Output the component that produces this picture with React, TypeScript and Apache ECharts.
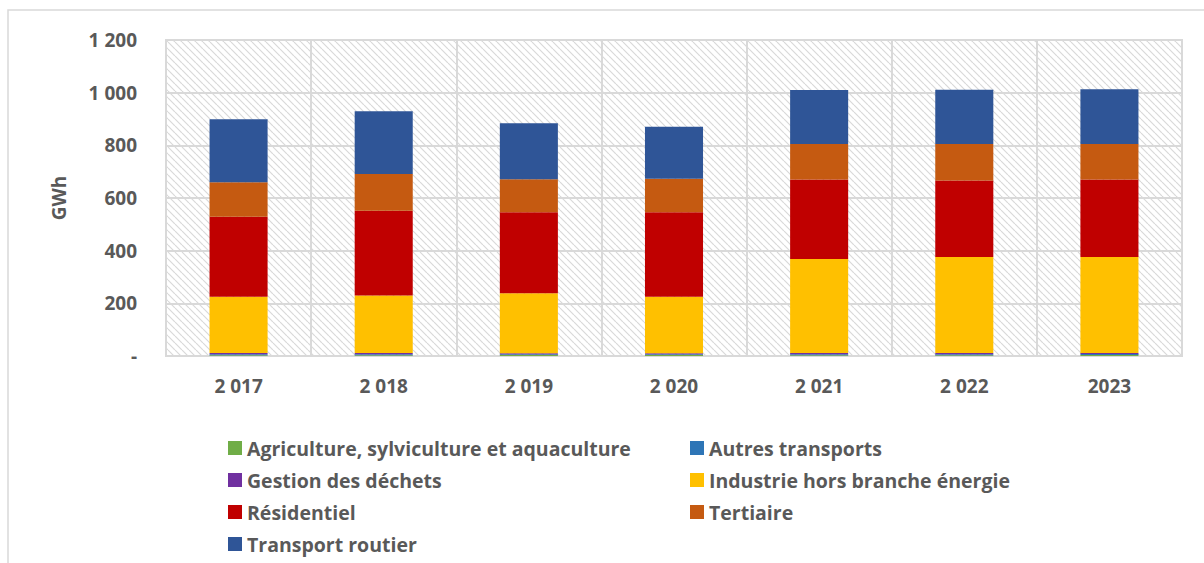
import React, { useEffect, useRef } from "react";
import * as echarts from "echarts";

const years = ["2 017", "2 018", "2 019", "2 020", "2 021", "2 022", "2023"];
const agriculture = [3, 3, 4, 4, 3, 3, 4];
const autresTransports = [4, 4, 3, 3, 4, 4, 4];
const gestionDechets = [4, 4, 3, 3, 4, 4, 3];
const industrie = [214, 219, 228, 215, 357, 365, 365];
const residentiel = [304, 322, 308, 321, 302, 290, 294];
const tertiaire = [131, 139, 125, 127, 135, 139, 135];
const transportRoutier = [239, 238, 213, 198, 205, 206, 208];
const yTickLabels = ["-", "200", "400", "600", "800", "1 000", "1 200"];

const seriesNames = [
  "Agriculture, sylviculture et aquaculture",
  "Autres transports",
  "Gestion des déchets",
  "Industrie hors branche énergie",
  "Résidentiel",
  "Tertiaire",
  "Transport routier",
];
const seriesData = [agriculture, autresTransports, gestionDechets, industrie, residentiel, tertiaire, transportRoutier];
const seriesColors = ["#70AD47", "#2E75B6", "#7030A0", "#FFC000", "#C00000", "#C55A11", "#2F5597"];

const FONT = "Open Sans";
const TXT = "#595959";

export default function App() {
  const ref = useRef<HTMLDivElement>(null);
  useEffect(() => {
    if (!ref.current) return;
    const chart = echarts.init(ref.current, undefined, { renderer: "svg" });

    const c = document.createElement("canvas");
    c.width = 7;
    c.height = 7;
    const ctx = c.getContext("2d");
    if (ctx) {
      ctx.strokeStyle = "#d9d9d9";
      ctx.lineWidth = 1.2;
      for (const off of [-7, 0, 7]) {
        ctx.beginPath();
        ctx.moveTo(off, 0);
        ctx.lineTo(off + 7, 7);
        ctx.stroke();
      }
    }

    const legendText = { fontFamily: FONT, fontSize: 19.5, fontWeight: "bold" as const, color: TXT };
    const axisText = { fontFamily: FONT, fontSize: 19, fontWeight: "bold" as const, color: TXT };

    chart.setOption({
      animation: false,
      backgroundColor: "#ffffff",
      grid: {
        left: 166,
        right: 22,
        top: 40,
        bottom: 207,
        show: true,
        borderColor: "#d9d9d9",
        borderWidth: 2,
        backgroundColor: "transparent",
      },
      graphic: [
        {
          type: "rect",
          z: -10,
          silent: true,
          shape: { x: 8, y: 10, width: 1400, height: 800 },
          style: { fill: "none", stroke: "#d9d9d9", lineWidth: 1.5 },
        },
        {
          type: "rect",
          z: -5,
          silent: true,
          shape: { x: 166, y: 40, width: 1016, height: 316 },
          style: { fill: { image: c, repeat: "repeat" } as any },
        },
      ],
      legend: [
        {
          orient: "vertical",
          left: 228,
          top: 438,
          padding: 0,
          itemWidth: 14,
          itemHeight: 14,
          itemGap: 12,
          icon: "rect",
          textStyle: legendText,
          data: [seriesNames[0], seriesNames[2], seriesNames[4], seriesNames[6]],
        },
        {
          orient: "vertical",
          left: 690,
          top: 438,
          padding: 0,
          itemWidth: 14,
          itemHeight: 14,
          itemGap: 12,
          icon: "rect",
          textStyle: legendText,
          data: [seriesNames[1], seriesNames[3], seriesNames[5]],
        },
      ],
      xAxis: {
        type: "category",
        data: years,
        axisLine: { show: false },
        axisTick: { show: false },
        splitLine: { show: true, lineStyle: { color: "#d9d9d9", width: 2 } },
        axisLabel: { ...axisText, margin: 20 },
      },
      yAxis: {
        type: "value",
        min: 0,
        max: 1200,
        interval: 200,
        name: "GWh",
        nameLocation: "middle",
        nameGap: 98,
        nameTextStyle: axisText,
        axisLine: { show: false },
        axisTick: { show: false },
        splitLine: { show: true, lineStyle: { color: "#d9d9d9", width: 2 } },
        axisLabel: {
          ...axisText,
          margin: 29,
          formatter: (v: number) => yTickLabels[Math.round(v / 200)] ?? String(v),
        },
      },
      series: seriesNames.map((name, i) => ({
        name,
        type: "bar",
        stack: "total",
        barWidth: "40%",
        data: seriesData[i],
        itemStyle: { color: seriesColors[i] },
      })),
    });
    return () => chart.dispose();
  }, []);
  return <div ref={ref} style={{ position: "fixed", left: 0, top: 0, width: 1204, height: 563 }} />;
}
